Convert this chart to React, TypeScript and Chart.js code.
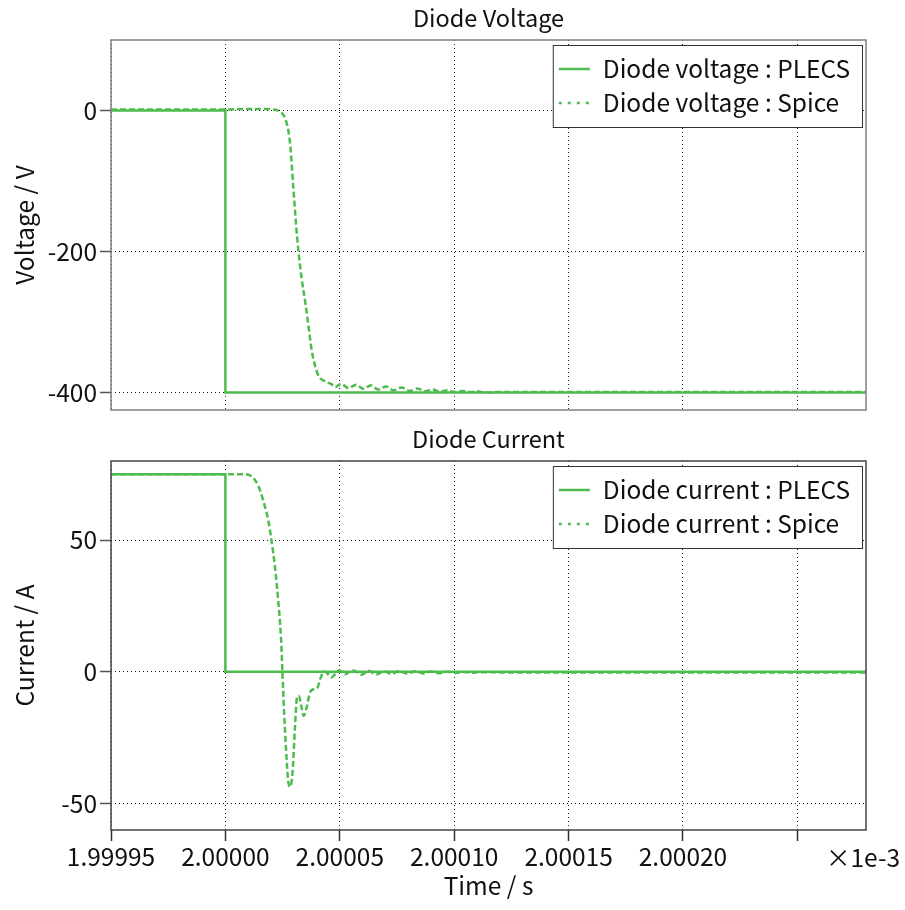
import React, { useEffect, useRef } from 'react';
import { Chart, registerables } from 'chart.js';
Chart.register(...registerables);

const FONT = '"Noto Sans CJK JP", "Noto Sans", sans-serif';
const GREEN = '#4dbb4d';

// time axis in ns relative to 2.00000e-3 s
const xTickValues = [-50, 0, 50, 100, 150, 200, 250];
const xTickLabels = ['1.99995', '2.00000', '2.00005', '2.00010', '2.00015', '2.00020', ''];
const xMin = -50;
const xMax = 280;

const voltageTicks = [0, -200, -400];
const currentTicks = [50, 0, -50];

const plecsVoltageT = [-50, 0, 0, 280];
const plecsVoltageV = [0, 0, -400, -400];

const spiceVoltageT = [-50, 0, 10, 18, 21, 23, 24.5, 25.5, 26.5, 27.5, 28.5, 29.7, 30.8, 31.9, 33.4, 35.0, 36.3, 37.6, 39.0, 40.5, 41.8, 42.8, 44.5, 46.2, 48.0, 50.6, 53.7, 57.2, 60.2, 63.7, 66.7, 70.2, 73.5, 77.0, 80.5, 84.0, 87.3, 90.5, 93.8, 97.0, 100.3, 103.5, 106.8, 110, 113.5, 120, 140, 280];
const spiceVoltageV = [1.5, 1.5, 2, 2, 1.5, 0, -3, -7, -15, -28, -55, -110, -158, -199, -240, -274, -305, -338, -360, -375, -381, -383, -386, -388, -392.5, -388, -394, -389, -395, -390, -396, -391.5, -397, -393, -398, -394.5, -398.5, -396, -399, -397, -399.5, -398, -399.5, -398.5, -400, -399.3, -399.5, -399.5];

const plecsCurrentT = [-50, 0, 0, 280];
const plecsCurrentI = [75, 75, 0, 0];

const spiceCurrentT = [-50, 0, 8, 10, 12.2, 14.4, 16.6, 18.8, 20.2, 21.7, 23.1, 24.3, 24.9, 25.7, 26.8, 27.5, 28.4, 29.4, 30.4, 31.3, 32.1, 33.3, 34.2, 35.5, 37.0, 38.4, 40.3, 41.7, 43.2, 44.9, 46.4, 47.9, 49.7, 52.2, 55.8, 59.5, 62.7, 66.0, 69.4, 72.6, 76.0, 79.5, 83.0, 86.5, 90.0, 93.5, 97.0, 100.5, 104.0, 107.5, 111.0, 120, 280];
const spiceCurrentI = [75, 75, 75, 74.8, 73.6, 70.5, 64.8, 57.2, 49.6, 39.5, 26.9, 13, 0.4, -16, -33.7, -41.9, -43.6, -37.5, -21.1, -9.7, -9.1, -13.5, -16.7, -13.5, -7.8, -6.6, -5.9, -2.1, 0.1, -0.9, -2.1, -0.9, 0.6, -0.9, 0.6, -1.1, 0.4, -1.0, 0.2, -0.8, 0.3, -0.7, 0.2, -0.6, 0.1, -0.5, 0, -0.4, -0.05, -0.35, -0.1, -0.2, -0.2];

const toXY = (t: number[], v: number[]) => t.map((x, i) => ({ x, y: v[i] }));

const TICK_SIZE = 24.5;
const LEGEND_SIZE = 24.5;
const TITLE_SIZE = 23.5;

type PanelCfg = {
  title: string;
  yTitle: string;
  yMin: number;
  yMax: number;
  yTicks: number[];
  labels: [string, string];
  series: [{ x: number; y: number }[], { x: number; y: number }[]];
  showX: boolean;
  height: number;
  padTop: number;
  xHeight: number;
  titleY: number;
  frameColor: string;
};

function makeChart(canvas: HTMLCanvasElement, c: PanelCfg) {
  const decor = {
    id: 'decor',
    afterDatasetsDraw(chart: any) {
      const { ctx, chartArea: a } = chart;
      ctx.save();
      // frame
      ctx.strokeStyle = c.frameColor;
      ctx.lineWidth = 1.5;
      ctx.setLineDash([]);
      ctx.strokeRect(a.left, a.top, a.right - a.left, a.bottom - a.top);
      // legend
      ctx.font = `${LEGEND_SIZE}px ${FONT}`;
      const tw = Math.max(...c.labels.map((l) => ctx.measureText(l).width));
      const bw = 50 + tw + 12;
      const bh = 82;
      const bx = a.right - 4 - bw;
      const by = a.top + 5;
      ctx.fillStyle = '#ffffff';
      ctx.fillRect(bx, by, bw, bh);
      ctx.strokeStyle = '#333333';
      ctx.lineWidth = 1;
      ctx.strokeRect(bx + 0.5, by + 0.5, bw, bh);
      const rows = [24, 58];
      ctx.strokeStyle = GREEN;
      ctx.lineWidth = 2.5;
      for (let i = 0; i < 2; i++) {
        ctx.setLineDash(i === 0 ? [] : [3, 6]);
        ctx.beginPath();
        ctx.moveTo(bx + 6, by + rows[i]);
        ctx.lineTo(bx + 37, by + rows[i]);
        ctx.stroke();
      }
      ctx.setLineDash([]);
      ctx.fillStyle = '#111111';
      ctx.textBaseline = 'alphabetic';
      ctx.textAlign = 'left';
      ctx.fillText(c.labels[0], bx + 50, by + 33);
      ctx.fillText(c.labels[1], bx + 50, by + 67);
      ctx.restore();
    },
    afterDraw(chart: any) {
      const { ctx, chartArea: a } = chart;
      ctx.save();
      ctx.font = `${TITLE_SIZE}px ${FONT}`;
      ctx.fillStyle = '#111111';
      ctx.textAlign = 'center';
      ctx.textBaseline = 'alphabetic';
      ctx.fillText(c.title, (a.left + a.right) / 2, c.titleY);
      if (c.showX) {
        ctx.font = `${TICK_SIZE}px ${FONT}`;
        ctx.textAlign = 'right';
        ctx.textBaseline = 'middle';
        ctx.fillText('\u00d71e-3', 900, a.bottom + 28);
      }
      ctx.restore();
    },
  };

  return new Chart(canvas, {
    type: 'line',
    data: {
      datasets: [
        {
          label: c.labels[0],
          data: c.series[0],
          borderColor: GREEN,
          borderWidth: 2.5,
          pointRadius: 0,
          tension: 0,
          order: 1,
        },
        {
          label: c.labels[1],
          data: c.series[1],
          borderColor: GREEN,
          borderWidth: 2.5,
          borderDash: [6, 3],
          pointRadius: 0,
          cubicInterpolationMode: 'monotone',
          order: 0,
        },
      ],
    },
    options: {
      animation: false,
      responsive: false,
      maintainAspectRatio: false,
      events: [],
      layout: { padding: { top: c.padTop, right: 39, left: 0, bottom: 0 } },
      plugins: {
        legend: { display: false },
        tooltip: { enabled: false },
        title: { display: false },
      },
      scales: {
        x: {
          type: 'linear',
          min: xMin,
          max: xMax,
          afterBuildTicks: (s: any) => {
            s.ticks = xTickValues.map((v) => ({ value: v }));
          },
          afterFit: (s: any) => {
            s.height = c.xHeight;
            s.paddingLeft = 0;
            s.paddingRight = 0;
          },
          border: { display: false, dash: [1, 3] },
          grid: {
            color: '#222222',
            lineWidth: 1,
            drawTicks: c.showX,
            tickLength: 11,
            tickColor: '#333333',
            tickWidth: 1.5,
            tickBorderDash: [],
          },
          ticks: {
            display: c.showX,
            autoSkip: false,
            maxRotation: 0,
            padding: 1,
            color: '#111111',
            font: { family: FONT, size: TICK_SIZE },
            callback: (_v: any, i: number) => xTickLabels[i],
          },
          title: {
            display: c.showX,
            text: 'Time / s',
            color: '#111111',
            font: { family: FONT, size: TICK_SIZE },
            padding: { top: 0, bottom: 10 },
          },
        },
        y: {
          type: 'linear',
          min: c.yMin,
          max: c.yMax,
          afterBuildTicks: (s: any) => {
            s.ticks = c.yTicks.map((v) => ({ value: v }));
          },
          afterFit: (s: any) => {
            s.width = 111;
            s.paddingTop = 0;
            s.paddingBottom = 0;
          },
          border: { display: false, dash: [1, 3] },
          grid: {
            color: '#222222',
            lineWidth: 1,
            drawTicks: true,
            tickLength: 11,
            tickColor: '#555555',
            tickWidth: 1.5,
            tickBorderDash: [],
          },
          ticks: {
            autoSkip: false,
            padding: 3,
            color: '#111111',
            font: { family: FONT, size: TICK_SIZE },
            callback: (v: any) => String(v),
          },
          title: {
            display: true,
            text: c.yTitle,
            color: '#111111',
            font: { family: FONT, size: TICK_SIZE },
            padding: { top: 10, bottom: 0 },
          },
        },
      },
    },
    plugins: [decor],
  } as any);
}

function Panel({ cfg, top }: { cfg: PanelCfg; top: number }) {
  const ref = useRef<HTMLCanvasElement>(null);
  useEffect(() => {
    const chart = makeChart(ref.current!, cfg);
    return () => chart.destroy();
  }, []);
  return (
    <canvas
      ref={ref}
      width={905}
      height={cfg.height}
      style={{ position: 'absolute', left: 0, top, width: 905, height: cfg.height, display: 'block' }}
    />
  );
}

const voltagePanel: PanelCfg = {
  title: 'Diode Voltage',
  yTitle: 'Voltage / V',
  yMin: -425,
  yMax: 100,
  yTicks: voltageTicks,
  labels: ['Diode voltage : PLECS', 'Diode voltage : Spice'],
  series: [toXY(plecsVoltageT, plecsVoltageV), toXY(spiceVoltageT, spiceVoltageV)],
  showX: false,
  height: 420,
  padTop: 40,
  xHeight: 10,
  titleY: 27,
  frameColor: '#808080',
};

const currentPanel: PanelCfg = {
  title: 'Diode Current',
  yTitle: 'Current / A',
  yMin: -60,
  yMax: 80,
  yTicks: currentTicks,
  labels: ['Diode current : PLECS', 'Diode current : Spice'],
  series: [toXY(plecsCurrentT, plecsCurrentI), toXY(spiceCurrentT, spiceCurrentI)],
  showX: true,
  height: 490,
  padTop: 41,
  xHeight: 80,
  titleY: 28,
  frameColor: '#444444',
};

export default function App() {
  return (
    <div style={{ position: 'absolute', left: 0, top: 0, width: 905, height: 910, background: '#ffffff' }}>
      <Panel cfg={voltagePanel} top={0} />
      <Panel cfg={currentPanel} top={420} />
    </div>
  );
}
